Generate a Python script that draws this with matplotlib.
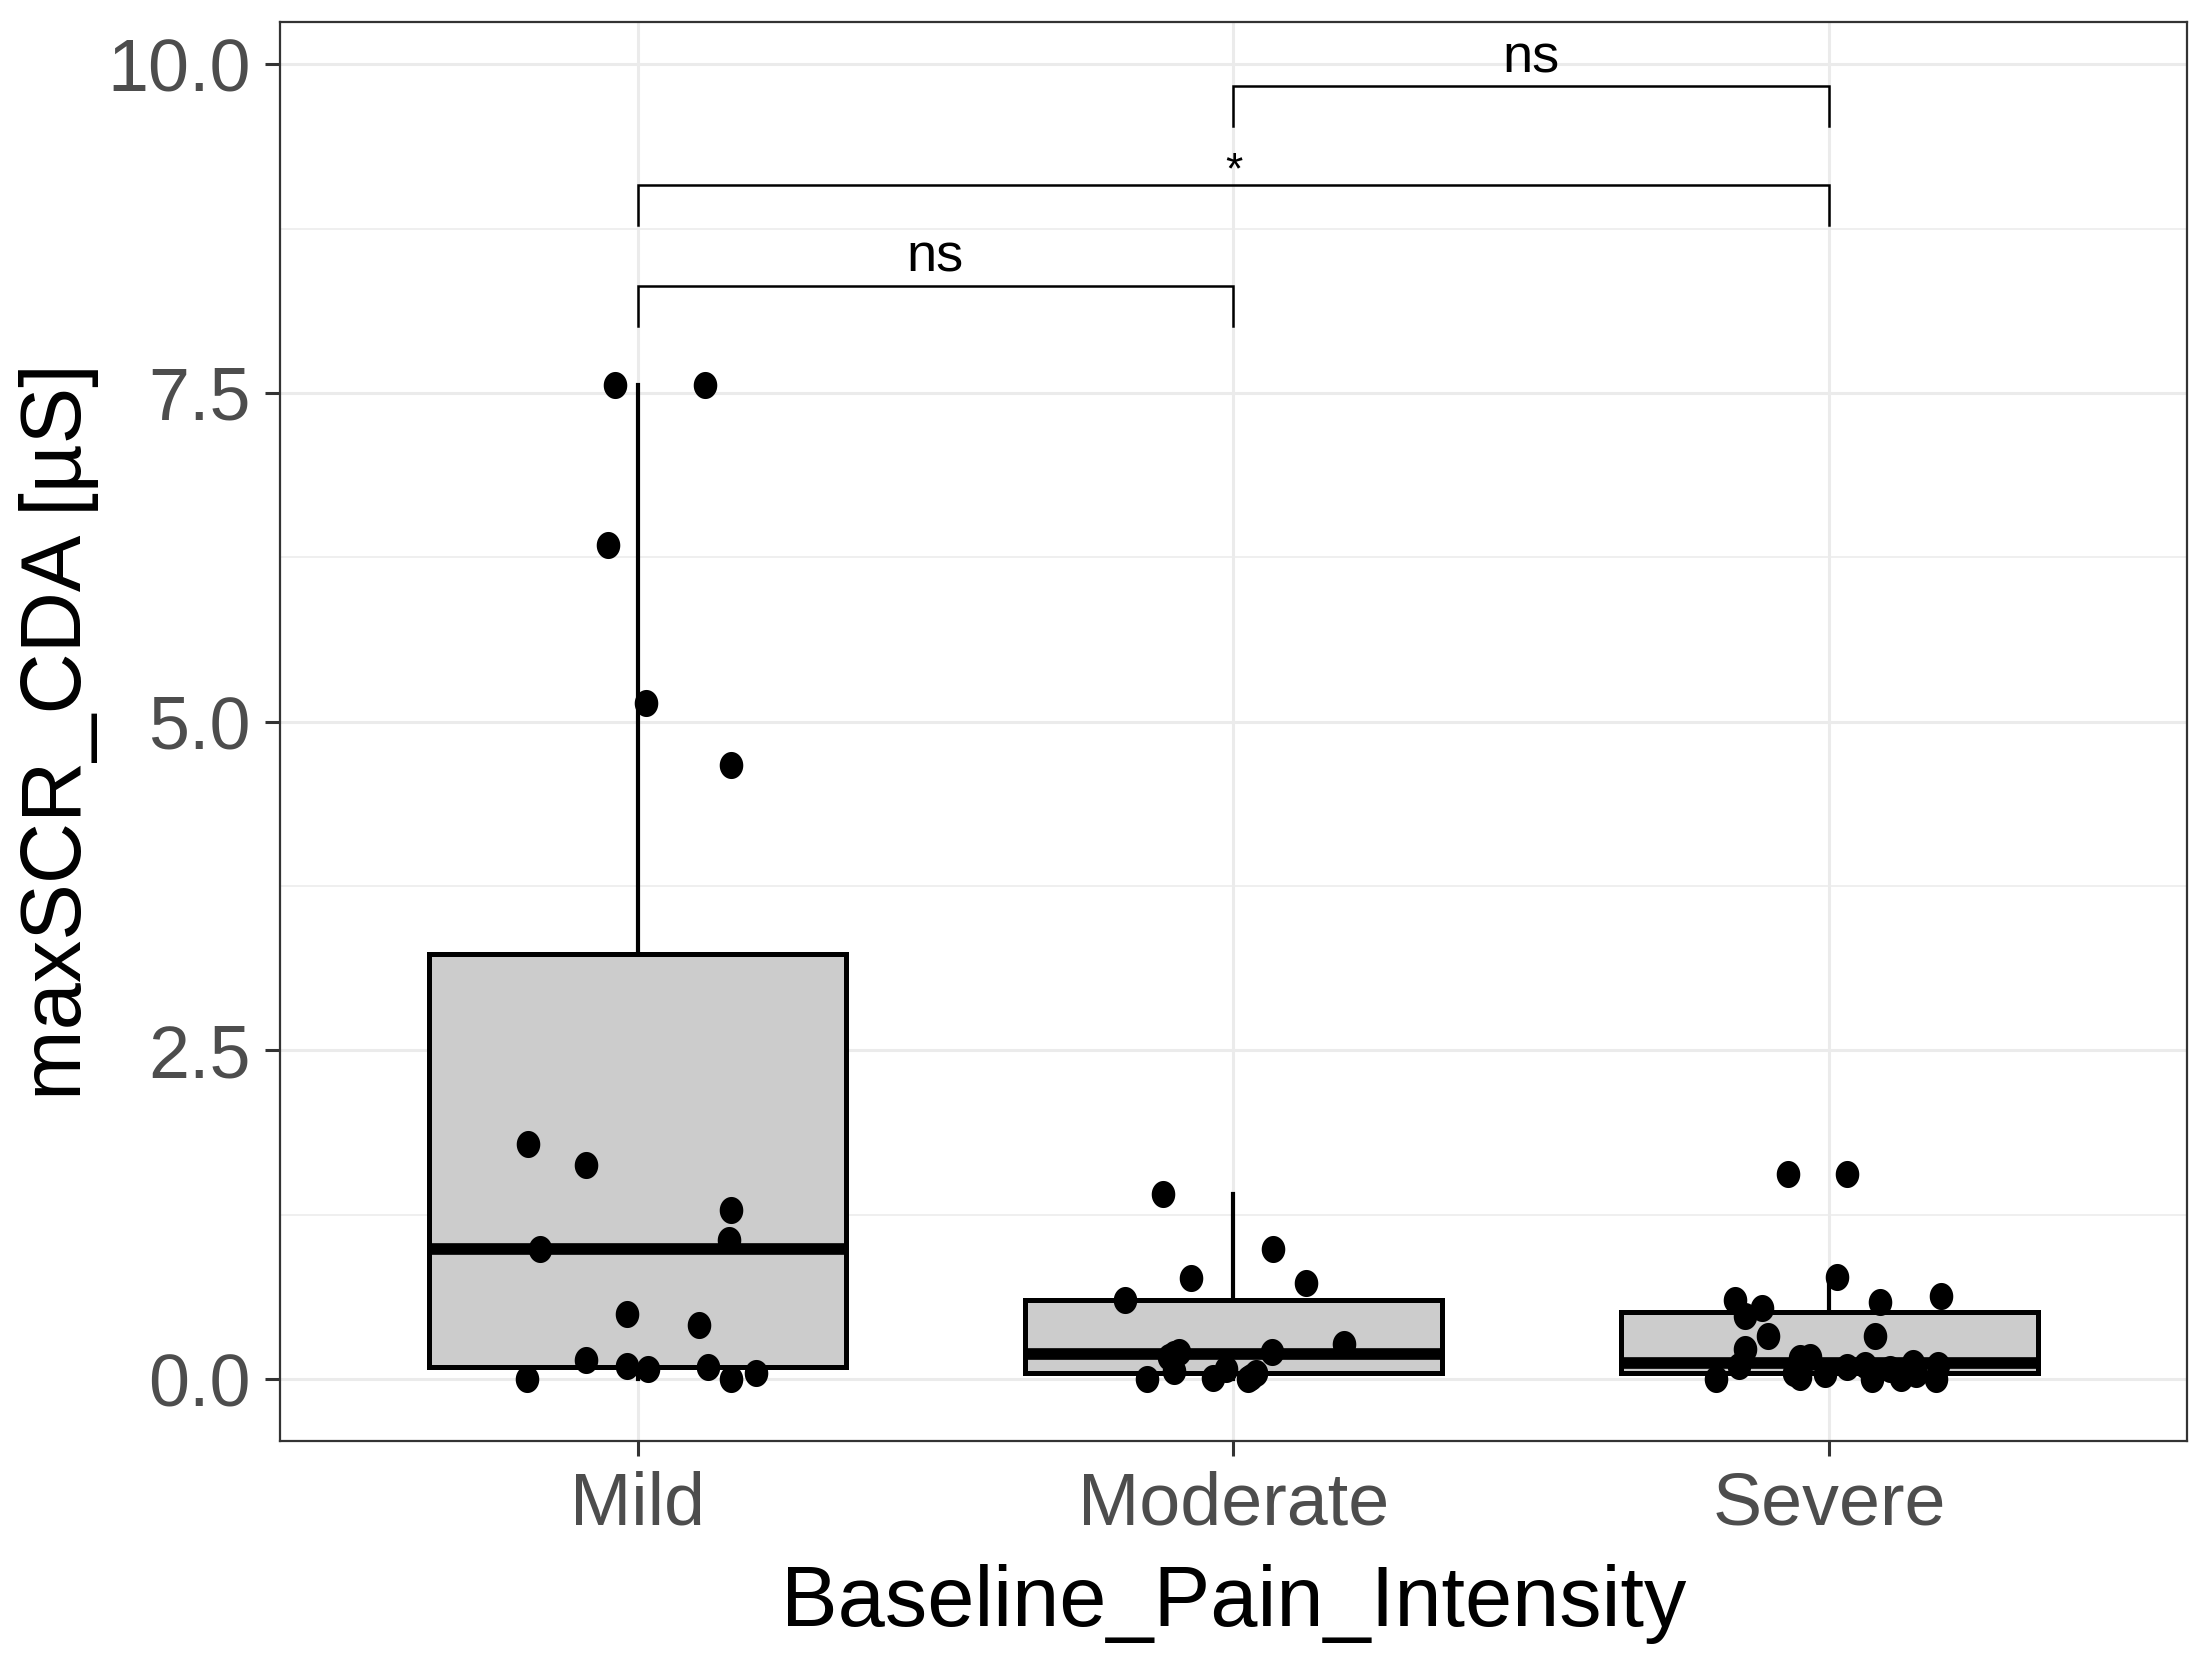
import numpy as np
import matplotlib.pyplot as plt
from matplotlib.path import Path
from matplotlib.ticker import MultipleLocator

plt.rcParams['font.family'] = ['Liberation Sans', 'DejaVu Sans']

# groups
groups = ["Mild", "Moderate", "Severe"]

# values (µS), with the horizontal jitter offsets seen
mild_vals = [7.56, 7.56, 6.34, 5.14, 4.67, 1.79, 1.63, 1.29, 1.06, 0.99,
             0.50, 0.41, 0.15, 0.10, 0.08, 0.09, 0.05, 0.00, 0.00]
mild_jit = [-0.038, 0.113, -0.050, 0.014, 0.156, -0.183, -0.086, 0.156, 0.153, -0.163,
            -0.018, 0.103, -0.086, -0.018, 0.018, 0.118, 0.198, -0.185, 0.156]

moderate_vals = [1.41, 0.99, 0.77, 0.73, 0.60, 0.27, 0.21, 0.17, 0.21, 0.08,
                 0.01, 0.00, 0.00, 0.05, 0.02, 0.06, 0.19]
moderate_jit = [-0.118, 0.066, -0.072, 0.121, -0.182, 0.185, -0.092, -0.109, 0.064, -0.013,
                -0.034, -0.145, 0.024, 0.037, 0.030, -0.100, -0.100]

severe_vals = [1.56, 1.56, 0.78, 0.63, 0.60, 0.59, 0.54, 0.48, 0.33, 0.33,
               0.23, 0.10, 0.16, 0.17, 0.02, 0.04, 0.11, 0.08, 0.04, 0.11,
               0.00, 0.00, 0.00, 0.01, 0.05, 0.09, 0.12]
severe_jit = [-0.069, 0.030, 0.012, 0.187, -0.158, 0.084, -0.114, -0.141, -0.103, 0.077,
              -0.141, -0.151, -0.050, -0.032, -0.050, -0.008, 0.059, 0.101, 0.146, 0.182,
              0.178, 0.072, -0.190, 0.120, -0.060, 0.030, 0.140]

# pairwise comparisons: (group a, group b), bracket height, label
comp_pairs = [(0, 1), (0, 2), (1, 2)]
comp_y = [8.31, 9.08, 9.83]
comp_labels = ["ns", "*", "ns"]
tip_len = 0.30

all_vals = [mild_vals, moderate_vals, severe_vals]
all_jit = [mild_jit, moderate_jit, severe_jit]

fig = plt.figure(figsize=(11.04, 8.355), dpi=200)
ax = fig.add_axes([0.1268, 0.1376, 0.9905 - 0.1268, 0.9868 - 0.1376])

grid_c = '#EBEBEB'
ax.set_axisbelow(True)
ax.yaxis.set_major_locator(MultipleLocator(2.5))
ax.yaxis.set_minor_locator(MultipleLocator(1.25))
ax.grid(True, which='major', color=grid_c, linewidth=1.1)
ax.grid(True, which='minor', axis='y', color=grid_c, linewidth=0.55)

ax.boxplot(all_vals, positions=range(3), widths=0.7, showfliers=False,
           patch_artist=True, whis=1.5,
           boxprops=dict(facecolor='#CCCCCC', edgecolor='black', linewidth=1.8),
           medianprops=dict(color='black', linewidth=4.2, solid_capstyle='butt'),
           whiskerprops=dict(color='black', linewidth=1.5),
           capprops=dict(linewidth=0))

# slightly tall dots, as in the reference
t = np.linspace(0, 2 * np.pi, 60)
ell = Path(np.column_stack([0.87 * np.cos(t), np.sin(t)]), closed=True)
for i, (vals, jit) in enumerate(zip(all_vals, all_jit)):
    ax.scatter(np.array(jit) + i, vals, marker=ell, s=95, color='black',
               linewidths=0, zorder=4)

for (a, b), y, lab in zip(comp_pairs, comp_y, comp_labels):
    ax.plot([a, a, b, b], [y - tip_len, y, y, y - tip_len], color='black',
            linewidth=0.9, solid_joinstyle='miter')
    if lab == "*":
        ax.text((a + b) / 2, y + 0.10, lab, ha='center', va='center',
                fontsize=16, color='black')
    else:
        ax.text((a + b) / 2, y + 0.11, lab, ha='center', va='baseline',
                fontsize=19.5, color='black')

ax.set_xlim(-0.6, 2.6)
ax.set_ylim(-0.47, 10.32)
ax.set_xticks(range(3))
ax.set_xticklabels(groups)
ax.set_yticks([0, 2.5, 5, 7.5, 10])
ax.set_yticklabels(["0.0", "2.5", "5.0", "7.5", "10.0"])
ax.tick_params(axis='both', which='major', labelsize=26.5, labelcolor='#4D4D4D',
               color='#333333', length=5.5, width=1.1, pad=5)
ax.tick_params(axis='y', which='minor', length=0)

for s in ax.spines.values():
    s.set_color('#333333')
    s.set_linewidth(0.8)

ax.set_xlabel("Baseline_Pain_Intensity", fontsize=30.5, color='black', labelpad=9)
ax.set_ylabel("maxSCR_CDA [µS]", fontsize=30.5, color='black')
ax.yaxis.set_label_coords(-0.095, 0.5)

fig.savefig("out.png", dpi=200, facecolor='white')
